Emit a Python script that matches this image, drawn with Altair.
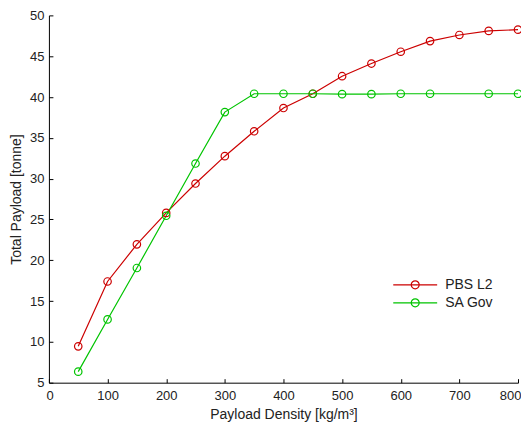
import altair as alt
import pandas as pd

density = [50, 100, 150, 200, 250, 300, 350, 400, 450, 500, 550, 600, 650, 700, 750, 800]
pbs_l2 = [9.45, 17.4, 21.95, 25.8, 29.4, 32.75, 35.8, 38.65, 40.4, 42.55, 44.1, 45.55, 46.85, 47.6, 48.1, 48.25]
sa_density = [50, 100, 150, 200, 250, 300, 350, 400, 450, 500, 550, 600, 650, 750, 800]
sa_gov = [6.35, 12.75, 19.05, 25.45, 31.85, 38.15, 40.4, 40.4, 40.4, 40.35, 40.35, 40.4, 40.4, 40.4, 40.4]

series = ["PBS L2", "SA Gov"]
colors = ["#cc0000", "#00c400"]
x_ticks = [0, 100, 200, 300, 400, 500, 600, 700, 800]
y_ticks = [5, 10, 15, 20, 25, 30, 35, 40, 45, 50]

rows = [{"d": d, "v": v, "s": series[0]} for d, v in zip(density, pbs_l2)]
rows += [{"d": d, "v": v, "s": series[1]} for d, v in zip(sa_density, sa_gov)]
df = pd.DataFrame(rows)

W, H = 470, 368
FONT = "Liberation Sans"

xs = alt.Scale(domain=[0, 800], nice=False, zero=False)
ys = alt.Scale(domain=[5, 50], nice=False, zero=False)
cs = alt.Scale(domain=series, range=colors)

# symbol size 400 -> unit = 10px; line spans 44px, circle radius 4px
legend_symbol = "M-2.2,0L2.2,0M0.4,0A0.4,0.4,0,1,1,-0.4,0A0.4,0.4,0,1,1,0.4,0"

lines = alt.Chart(df).mark_line(strokeWidth=1.2).encode(
    x=alt.X("d:Q", scale=xs, title="Payload Density [kg/m³]",
            axis=alt.Axis(values=x_ticks, ticks=False, grid=False, labelPadding=7,
                          labelFlush=True, labelFlushOffset=3,
                          titlePadding=5, domainColor="black", domainWidth=1)),
    y=alt.Y("v:Q", scale=ys, title="Total Payload [tonne]",
            axis=alt.Axis(values=y_ticks, ticks=False, grid=False, labelPadding=5,
                          titlePadding=6, domainColor="black", domainWidth=1)),
    color=alt.Color("s:N", scale=cs, title=None,
                    legend=alt.Legend(orient="none", legendX=356, legendY=259,
                                      symbolType=legend_symbol, symbolSize=400,
                                      symbolStrokeWidth=1.2, symbolFillColor="transparent",
                                      labelOffset=19, rowPadding=0,
                                      labelFont=FONT, labelFontSize=14, labelColor="#222")),
)

points = alt.Chart(df).mark_point(filled=False, size=56, strokeWidth=1.2, opacity=1).encode(
    x=alt.X("d:Q", scale=xs, axis=None),
    y=alt.Y("v:Q", scale=ys, axis=None),
    color=alt.Color("s:N", scale=cs, legend=None),
)

ticks = alt.Chart(df).mark_point(opacity=0).encode(
    x=alt.X("d:Q", scale=xs, title=None,
            axis=alt.Axis(orient="top", offset=-H, values=x_ticks, labels=False, domain=False,
                          ticks=True, tickSize=4, tickColor="black", grid=False)),
    y=alt.Y("v:Q", scale=ys, title=None,
            axis=alt.Axis(orient="right", offset=-W, values=y_ticks, labels=False, domain=False,
                          ticks=True, tickSize=4, tickColor="black", grid=False)),
)

chart = alt.layer(lines, points, ticks).resolve_scale(
    x="independent", y="independent"
).properties(
    width=W, height=H,
    autosize=alt.AutoSizeParams(type="none"),
    padding={"left": 41, "top": 7, "right": 3, "bottom": 40},
).configure_view(stroke=None).configure_axis(
    labelFont=FONT, labelFontSize=13, labelColor="#222",
    titleFont=FONT, titleFontSize=14, titleFontWeight="normal", titleColor="#222",
)

chart.save("out.html", embed_options={"renderer": "svg", "actions": False})
